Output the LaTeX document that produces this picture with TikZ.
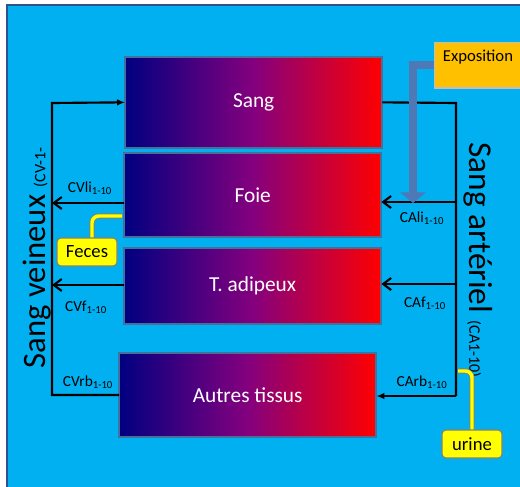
\documentclass[tikz,border=0pt]{standalone}
\usepackage{fontspec}
\setmainfont{Carlito}
\usetikzlibrary{arrows.meta}

\definecolor{fond}{RGB}{0,176,240}
\definecolor{cadre}{RGB}{47,82,143}
\definecolor{bordorg}{RGB}{65,113,156}
\definecolor{veine}{RGB}{0,0,128}
\definecolor{artere}{RGB}{255,0,0}
\definecolor{pourpre}{RGB}{132,0,126}
\definecolor{expo}{RGB}{255,192,0}
\definecolor{acier}{RGB}{78,120,182}
\definecolor{jaune}{RGB}{255,255,0}
\definecolor{grisj}{RGB}{130,130,110}

\begin{document}
\begin{tikzpicture}[x=0.75pt,y=0.75pt,yscale=-1,xscale=1,
  organ/.style={draw=bordorg, line width=1.5pt, left color=veine, right color=artere, middle color=pourpre, text=white, font=\fontsize{16}{19}\selectfont, anchor=north west, inner sep=0pt, outer sep=0pt, minimum width=193pt},
  flux/.style={line width=1.6pt},
  barb/.style={flux, -{Straight Barb[length=6pt,width=9pt]}},
  plein/.style={flux, -{Latex[length=6pt,width=5pt]}},
  debit/.style={font=\fontsize{11.5}{13}\selectfont, inner sep=0.75pt},
  sortie/.style={draw=grisj, line width=0.6pt, double=jaune, double distance=2.6pt, rounded corners=5pt},
  excret/.style={draw=grisj, fill=jaune, line width=0.8pt, rounded corners=3pt, font=\fontsize{14}{16}\selectfont, inner sep=0pt, minimum width=45pt, minimum height=21pt}]
\useasboundingbox (0,0) rectangle (520,486);

%Background
\draw[draw=cadre, fill=fond, line width=1.2pt] (7,5) rectangle (540,500);

% Organ boxes
\node[organ, minimum height=68pt] (sang) at (125,57) {Sang};
\node[organ, minimum height=63pt] (foie) at (124,153) {Foie};
\node[organ, minimum height=57pt] (adipeux) at (124,248) {T. adipeux};
\node[organ, minimum height=63pt] (autres) at (119,353) {Autres tissus};

% Exposition
\node[draw={rgb,255:red,190;green,190;blue,190}, fill=expo, line width=1pt, anchor=north west, minimum width=75pt, minimum height=34pt, inner sep=0pt] (expo) at (434,42) {};
\node[font=\fontsize{12.5}{14}\selectfont, inner sep=0.75pt] (expolbl) at (478,57) {Exposition};

% Excretion
\node[excret] (feces) at (87,252) {Feces};
\node[excret] (urine) at (472,444) {urine};

%Arterial side
\coordinate (aTop) at (456,103);
\coordinate (aBot) at (456,396);
\draw[flux] (sang.east) -- (aTop) -- (aBot);
\draw[barb] (aTop |- 0,202) -- (foie.east |- 0,202);
\draw[barb] (aTop |- 0,284) -- (adipeux.east |- 0,284);
\draw[plein] (aBot) -- (autres.east |- aBot);

%Venous side
\coordinate (vTop) at (52,103);
\coordinate (vBot) at (52,395);
\draw[plein] (autres.west |- vBot) -- (vBot) -- (vTop) -- (sang.west);
\draw[barb] (foie.west |- 0,203) -- (vTop |- 0,203);
\draw[barb] (adipeux.west |- 0,285) -- (vTop |- 0,285);

% Exposition input
\coordinate (eCoin) at (413,65);
\draw[draw=acier, line width=6.5pt, -{Triangle[length=8pt,width=19pt]}] (expo.west |- eCoin) -- (eCoin) -- (413,203);

% Text Node
\node[debit] (cvli) at (90,188) {CVli\textsubscript{1-10}};
\node[debit] (cvf) at (86,307) {CVf\textsubscript{1-10}};
\node[debit] (cvrb) at (88,382) {CVrb\textsubscript{1-10}};
\node[debit] (cali) at (422,218) {CAli\textsubscript{1-10}};
\node[debit] (caf) at (425,303) {CAf\textsubscript{1-10}};
\node[debit] (carb) at (422,382) {CArb\textsubscript{1-10}};

% Compartment titles
\node[rotate=90, font=\fontsize{24.5}{30}\selectfont, inner sep=0pt] (veineux) at (37,258) {Sang veineux {\fontsize{12}{14}\selectfont (CV-1-}};
\node[rotate=-90, font=\fontsize{25}{30}\selectfont, inner sep=0pt] (arteriel) at (478,260) {Sang artériel {\fontsize{12}{14}\selectfont (CA1-10)}};

% Excretion lines
\coordinate (fDep) at (122,216);
\draw[sortie] (fDep) -| ([xshift=3.75pt]feces.north);
\coordinate (uDep) at (458,371);
\draw[sortie] (uDep) -| (urine.north);

\end{tikzpicture}
\end{document}
